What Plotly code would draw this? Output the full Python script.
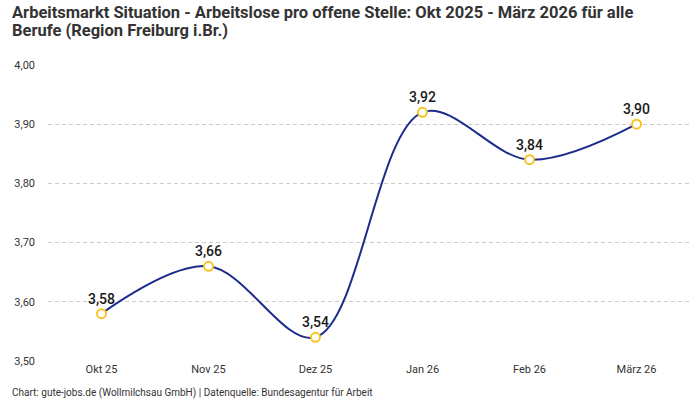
import plotly.graph_objects as go

months = ["Okt 25", "Nov 25", "Dez 25", "Jan 26", "Feb 26", "März 26"]
ratio = [3.58, 3.66, 3.54, 3.92, 3.84, 3.90]

title_lines = [
    "Arbeitsmarkt Situation - Arbeitslose pro offene Stelle: Okt 2025 - März 2026 für alle",
    "Berufe (Region Freiburg i.Br.)",
]
source = "Chart: gute-jobs.de (Wollmilchsau GmbH) | Datenquelle: Bundesagentur für Arbeit"

FONT = "Roboto, Noto Sans, sans-serif"

labels = [f"{v:.2f}".replace(".", ",") for v in ratio]

fig = go.Figure()
fig.add_trace(go.Scatter(
    x=months, y=ratio,
    mode="lines+markers+text",
    line=dict(color="#1c2b8c", width=2, shape="spline", smoothing=1),
    marker=dict(size=9, color="white", line=dict(color="#f6c324", width=2)),
    text=labels, textposition="top center",
    textfont=dict(family=FONT, size=14, color="#1a1a1a", weight=500),
    cliponaxis=False,
    hoverinfo="x+y",
))

# title (two lines) and footer as paper-anchored text
notes = []
for txt, yy in zip(title_lines, [1.179, 1.118]):
    notes.append(dict(
        text=txt, xref="paper", yref="paper", x=-0.0595, y=yy,
        xanchor="left", yanchor="middle", showarrow=False,
        font=dict(family=FONT, size=16.5, color="#333333", weight="bold"),
    ))
notes.append(dict(
    text=source, xref="paper", yref="paper", x=-0.0595, y=-0.108,
    xanchor="left", yanchor="middle", showarrow=False,
    font=dict(family=FONT, size=10, color="#333333"),
))

fig.update_layout(
    width=700, height=400,
    margin=dict(l=48, r=10, t=65, b=39),
    paper_bgcolor="white", plot_bgcolor="white",
    separators=",.",
    showlegend=False,
    font=dict(family=FONT, size=11, color="#333333"),
    annotations=notes,
)

fig.update_xaxes(showgrid=False, showline=False, ticks="", range=[-0.5, 5.5],
                 tickfont=dict(size=11, color="#333333"))
fig.update_yaxes(range=[3.5, 4.0], dtick=0.1, tickformat=".2f",
                 showgrid=True, gridcolor="#cccccc", griddash="4px,3px", gridwidth=1,
                 zeroline=False, showline=False, ticks="", ticklabelstandoff=12,
                 tickfont=dict(size=11, color="#333333"))

fig.write_html("out.html", config={"displayModeBar": False},
               post_script="document.body.style.margin='0';")
